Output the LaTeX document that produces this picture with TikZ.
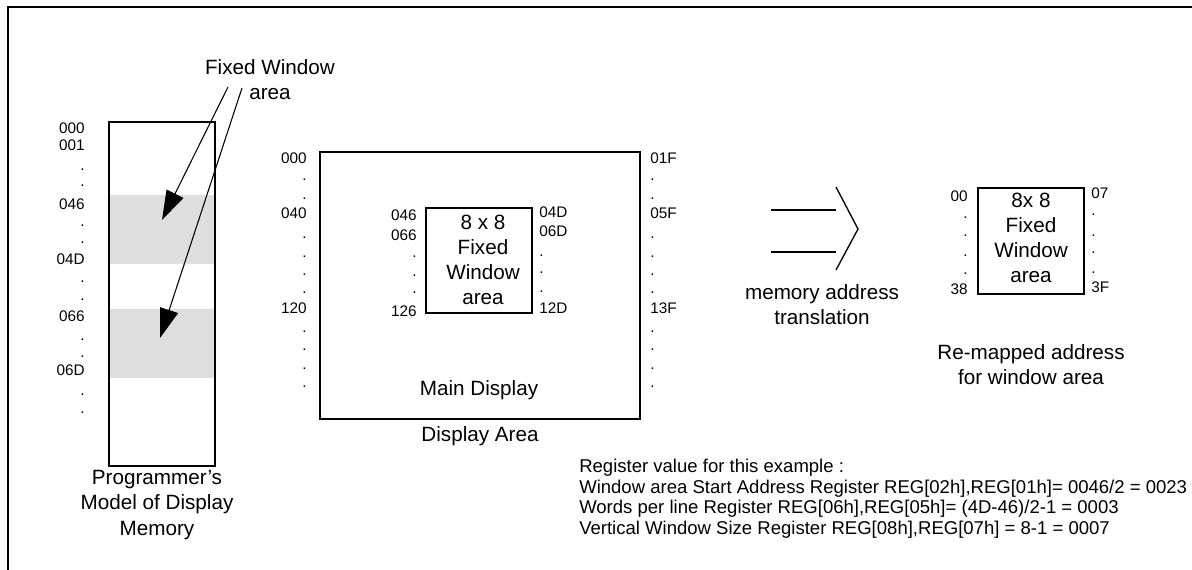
\documentclass[tikz,border=0pt]{standalone}
\usepackage{fontspec}
\setmainfont{Liberation Sans}
\usetikzlibrary{arrows.meta,fit,positioning}
\begin{document}
\begin{tikzpicture}[
  x=0.75pt, y=-0.75pt,
  box/.style={draw, line width=1.2pt, inner sep=0pt},
  band/.style={fill=black!13, inner sep=0pt},
  lbl/.style={inner sep=0pt, font=\fontsize{11.5}{13}\selectfont},
  txt/.style={inner sep=0pt, align=center, font=\fontsize{15.5}{18.75}\selectfont},
  regtxt/.style={inner sep=0pt, align=left, font=\fontsize{13.9}{15.4}\selectfont},
  ptr/.style={line width=0.8pt, -{Triangle[length=22pt, width=14pt]}},
  xlat/.style={line width=1pt}
]
\useasboundingbox (0,0) rectangle (1192,570);
\draw[line width=1.5pt] (1192,7) -- (8,7) -- (8,570);

% programmer's model
\node[band, fit={(109,195) (215,264)}] (b1) {};
\node[band, fit={(109,309) (215,378)}] (b2) {};
\node[box, fit={(109,122) (215,466)}] (mem) {};
\foreach \y/\t in {128/000, 145/001, 170/., 186/., 204/046, 226/., 243/., 259/04D,
    282/., 300/., 316/066, 340/., 357/., 370/06D, 395/., 413/.}
  \node[lbl, anchor=east] at (85,\y) {\t};
\node[txt, font=\fontsize{15.5}{19.2}\selectfont] (memcap) at (157,505) {Programmer's\\Model of Display\\Memory};

\node[txt] (fw) at (270,80) {Fixed Window\\area};
\coordinate (s1) at (228,87);
\coordinate (s2) at (242,88);
\coordinate (t1) at (162,220);
\coordinate (t2) at (160,338);
\draw[ptr] (s1) -- (t1);
\draw[ptr] (s2) -- (t2);

% display area
\node[box, fit={(320,152) (640,419)}] (disp) {};
\node[box, fit={(426,208) (532,313)}] (win) {};
\node[txt] (wintxt) at (483,260) {8 x 8\\Fixed\\Window\\area};
\node[txt] (maind) at (479,390) {Main Display};
\node[txt] (dispcap) at (480,436) {Display Area};
\foreach \y/\t in {158/000, 180/., 199/., 213/040, 238/., 257/., 275/., 293/., 308/120,
    332/., 350/., 369/., 387/.}
  \node[lbl, anchor=east] at (307,\y) {\t};
\foreach \y/\t in {158/01F, 180/., 199/., 213/05F, 238/., 257/., 275/., 293/., 308/13F,
    332/., 350/., 369/., 387/.}
  \node[lbl, anchor=west] at (650,\y) {\t};
\foreach \y/\t in {215/046, 235/066, 257/., 276/., 293/., 311/126}
  \node[lbl, anchor=east] at (417,\y) {\t};
\foreach \y/\t in {212/04D, 231/06D, 256/., 273/., 292/., 308/12D}
  \node[lbl, anchor=west] at (539,\y) {\t};

% translation
\draw[xlat] (771,210) -- (836,210);
\draw[xlat] (771,252) -- (836,252);
\draw[xlat] (836,187) -- (858,229) -- (836,270);
\node[txt] (xcap) at (822,305) {memory address\\translation};

% re-mapped window
\node[box, fit={(978,188) (1084,294)}] (remap) {};
\node[txt] (remaptxt) at (1031,238) {8x 8\\Fixed\\Window\\area};
\foreach \y/\t in {196/00, 218/., 236/., 256/., 274/., 289/38}
  \node[lbl, anchor=east] at (968,\y) {\t};
\foreach \y/\t in {193/07, 215/., 236/., 253/., 273/., 287/3F}
  \node[lbl, anchor=west] at (1091,\y) {\t};
\node[txt] (remapcap) at (1031,365) {Re-mapped address\\for window area};

\node[regtxt, anchor=north west] (reg) at (579,459) {Register value for this example :\\
  Window area Start Address Register REG[02h],REG[01h]= 0046/2 = 0023\\
  Words per line Register REG[06h],REG[05h]= (4D-46)/2-1 = 0003\\
  Vertical Window Size Register REG[08h],REG[07h] = 8-1 = 0007};
\end{tikzpicture}
\end{document}
